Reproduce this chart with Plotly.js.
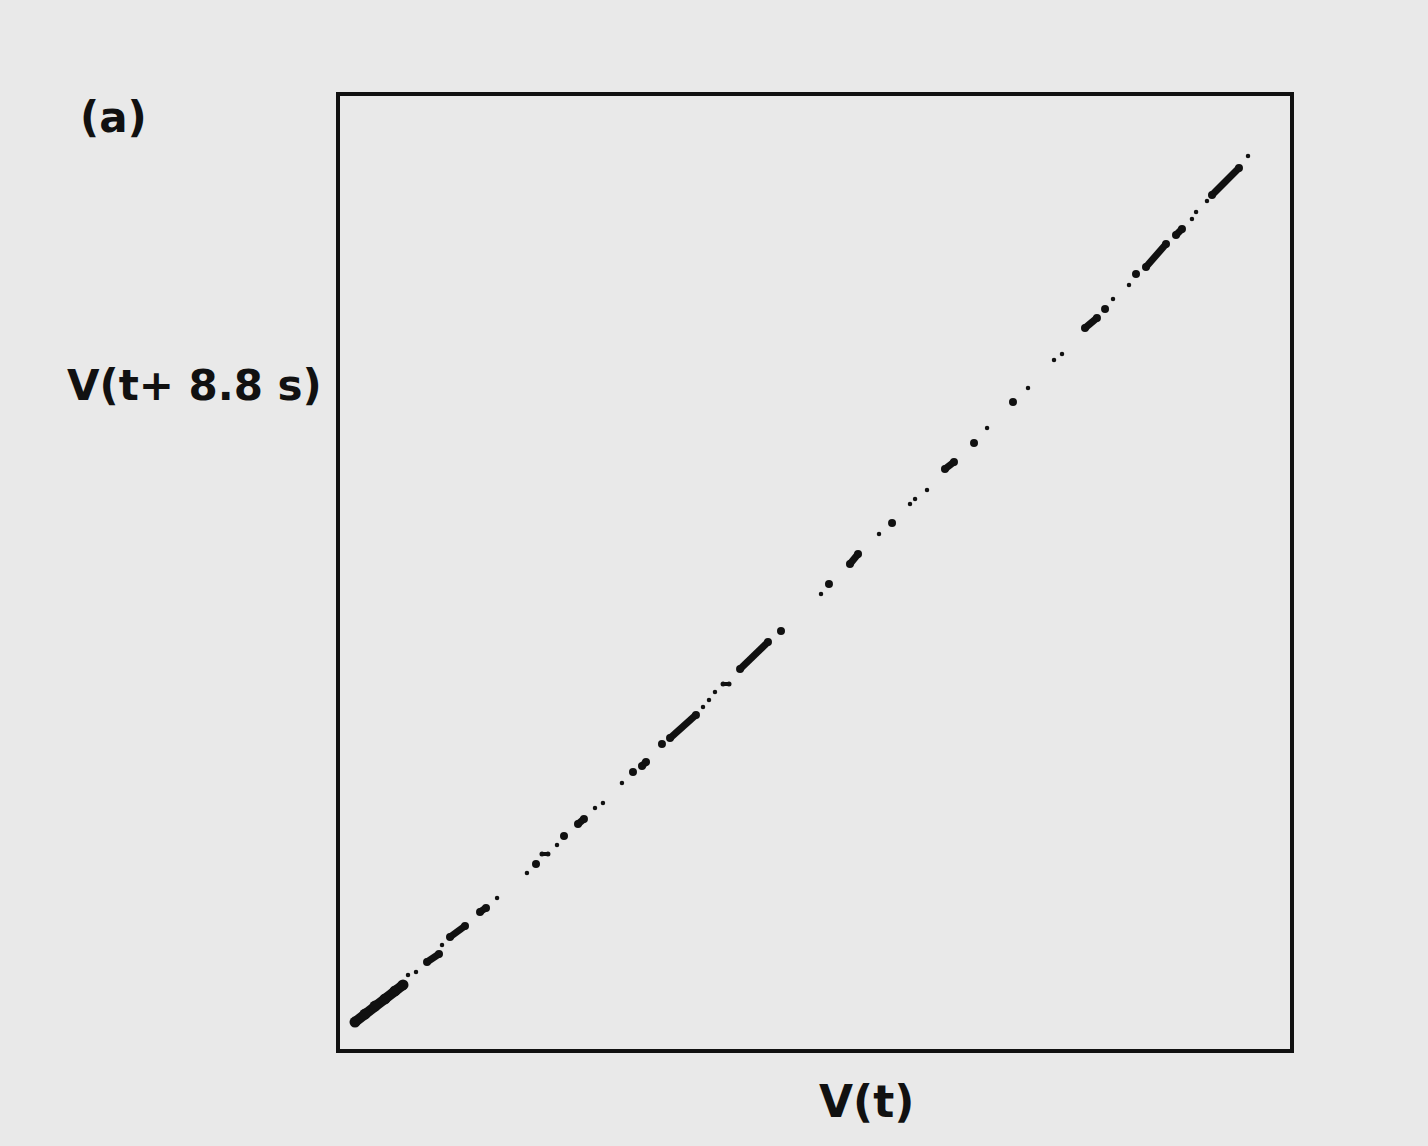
<!DOCTYPE html>
<html>
<head>
<meta charset="utf-8">
<script src="https://cdn.plot.ly/plotly-3.0.1.min.js"></script>
<style>html,body{margin:0;padding:0;background:#e9e9e9;}</style>
</head>
<body>
<div id="chart" style="width:1428px;height:1146px;"></div>
<script>
// Return map: V(t) vs V(t + 8.8 s), arbitrary units (0-100)
// Large elongated clusters (segments separated by null)
const bigClusterX = [1.58, 2.63, 3.68, 4.74, 5.79, 6.63];
const bigClusterY = [2.83, 3.67, 4.51, 5.25, 6.09, 6.72];

const clusterX = [9.16, 10.42, null, 11.58, 13.16, null, 14.74, 15.37, null, 20.63, null,
  23.58, null, 25.05, 25.68, null, 30.84, null, 31.79, 32.21, null, 33.89, null,
  34.74, 37.47, null, 42.11, 45.05, null, 46.42, null, 51.47, null, 53.68, 54.53, null,
  58.11, null, 63.68, 64.63, null, 66.74, null, 70.84, null, 78.42, 79.68, null, 80.53, null,
  83.79, null, 84.84, 86.95, null, 88.00, 88.63, null, 91.79, 94.63];
const clusterY = [9.13, 9.97, null, 11.75, 12.91, null, 14.38, 14.80, null, 19.41, null,
  22.35, null, 23.61, 24.13, null, 29.07, null, 29.70, 30.12, null, 32.00, null,
  32.63, 35.05, null, 39.87, 42.71, null, 43.86, null, 48.79, null, 50.89, 51.94, null,
  55.19, null, 60.86, 61.59, null, 63.59, null, 67.89, null, 75.66, 76.71, null, 77.65, null,
  81.32, null, 82.06, 84.47, null, 85.41, 86.04, null, 89.61, 92.44];

// Thin dashes
const dashX = [21.26, 21.89, null, 40.32, 40.95];
const dashY = [20.46, 20.46, null, 38.30, 38.30];

// Isolated small points
const dotX = [7.16, 8.00, 10.74, 16.53, 19.68, 22.84, 26.84, 27.68, 29.68, 38.21, 38.84, 39.47,
  50.63, 56.74, 60.00, 60.53, 61.79, 68.11, 72.42, 75.16, 76.00, 81.37, 83.05, 89.68, 90.11, 91.26, 95.58];
const dotY = [7.76, 8.08, 10.91, 15.84, 18.47, 21.41, 25.29, 25.81, 27.91, 35.89, 36.62, 37.46,
  47.74, 54.04, 57.19, 57.71, 58.66, 65.16, 69.36, 72.30, 72.93, 78.70, 80.17, 87.09, 87.83, 88.98, 93.70];

const ink = '#111111';
const traces = [
  {x: bigClusterX, y: bigClusterY, mode: 'lines+markers', line: {color: ink, width: 10}, marker: {color: ink, size: 11}, hoverinfo: 'skip'},
  {x: clusterX, y: clusterY, mode: 'lines+markers', connectgaps: false, line: {color: ink, width: 7}, marker: {color: ink, size: 8}, hoverinfo: 'skip'},
  {x: dashX, y: dashY, mode: 'lines+markers', connectgaps: false, line: {color: ink, width: 4}, marker: {color: ink, size: 5}, hoverinfo: 'skip'},
  {x: dotX, y: dotY, mode: 'markers', marker: {color: ink, size: 4.5}, hoverinfo: 'skip'}
];

const fontFam = '"DejaVu Sans", sans-serif';
const axisCommon = {
  range: [0, 100], showgrid: false, zeroline: false, showticklabels: false, ticks: '',
  showline: true, mirror: true, linecolor: ink, linewidth: 4, fixedrange: true
};

const layout = {
  width: 1428, height: 1146,
  margin: {l: 340, r: 138, t: 96, b: 97},
  paper_bgcolor: '#e9e9e9', plot_bgcolor: '#e9e9e9',
  showlegend: false,
  xaxis: Object.assign({}, axisCommon),
  yaxis: Object.assign({}, axisCommon),
  annotations: [
    {text: '<b>(a)</b>', xref: 'paper', yref: 'paper', x: -0.238, y: 0.977, xanchor: 'center', yanchor: 'middle', showarrow: false,
     font: {family: fontFam, size: 42, color: ink}},
    {text: '<b>V(t+ 8.8 s)</b>', xref: 'paper', yref: 'paper', x: -0.153, y: 0.696, xanchor: 'center', yanchor: 'middle', showarrow: false,
     font: {family: fontFam, size: 42, color: ink}},
    {text: '<b>V(t)</b>', xref: 'paper', yref: 'paper', x: 0.554, y: -0.055, xanchor: 'center', yanchor: 'middle', showarrow: false,
     font: {family: fontFam, size: 44, color: ink}}
  ]
};

Plotly.newPlot('chart', traces, layout, {displayModeBar: false, staticPlot: true});
</script>
</body>
</html>
